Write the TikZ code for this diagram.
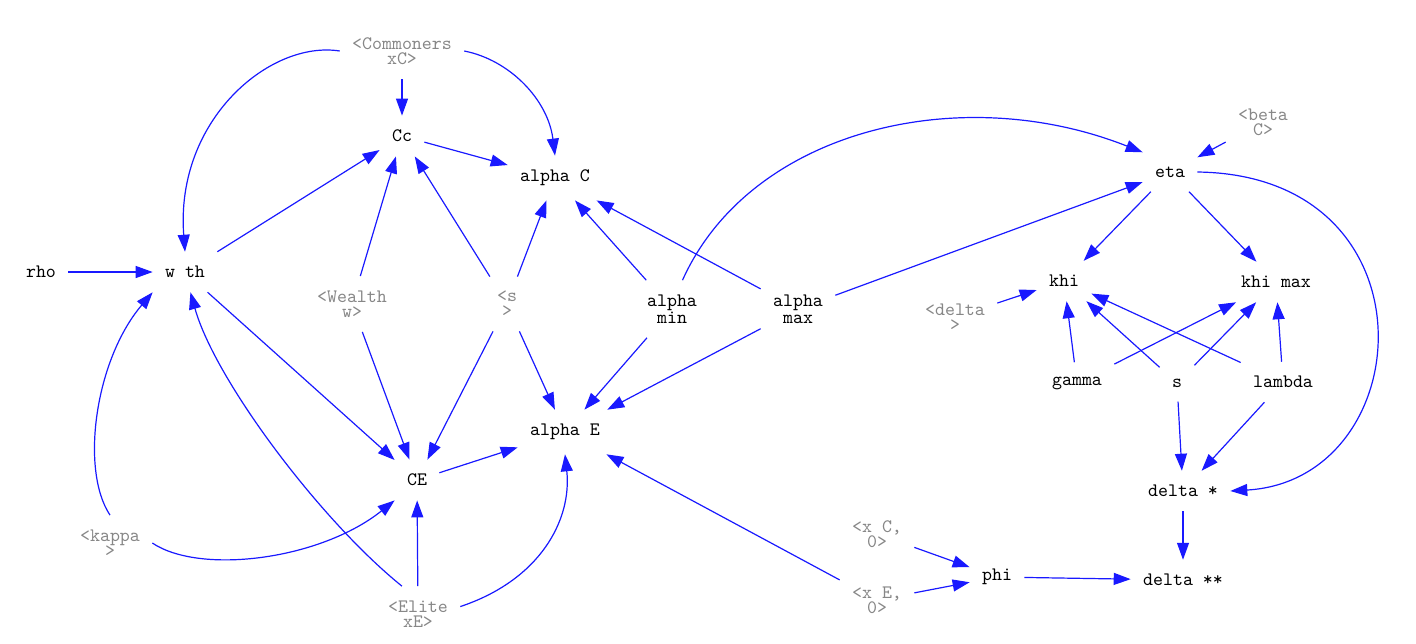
\documentclass[tikz,border=0pt]{standalone}
\usetikzlibrary{arrows.meta}
\definecolor{linkblue}{RGB}{25,25,255}
\definecolor{shadowgray}{RGB}{135,135,135}
\begin{document}
\begin{tikzpicture}[x=0.5pt,y=-0.5pt,
  var/.style={font=\ttfamily\fontsize{9.5}{8.6}\selectfont, align=center,
              inner xsep=6pt, inner ysep=7pt},
  ghost/.style={var, font=\ttfamily\fontsize{9.5}{7.7}\selectfont, text=shadowgray},
  link/.style={draw=linkblue, line width=0.6pt,
               -{Triangle[length=8.5pt,width=6pt]}}]
\useasboundingbox (0,0) rectangle (1416,643);

% variables
\node[ghost] (comm)   at (402,51)  {<Commoners\\xC>};
\node[var]   (cc)     at (402,136) {Cc};
\node[var]   (ac)     at (555,178) {alpha C};
\node[var]   (wth)    at (185,272) {w th};
\node[var]   (rho)    at (41,272)  {rho};
\node[ghost] (wealth) at (352,304) {<Wealth\\w>};
\node[ghost] (sg)     at (507,304) {<s\\>};
\node[var]   (amin)   at (672,309) {alpha\\min};
\node[var]   (amax)   at (798,309) {alpha\\max};
\node[var]   (ae)     at (565,432) {alpha E};
\node[var]   (ce)     at (417,480) {CE};
\node[ghost] (kappa)  at (110,543) {<kappa\\>};
\node[ghost] (elite)  at (418,614) {<Elite\\xE>};
\node[var]   (eta)    at (1170,172) {eta};
\node[ghost] (beta)   at (1263,122) {<beta\\C>};
\node[var]   (khi)    at (1064,281) {khi};
\node[var]   (khimax) at (1276,282) {khi max};
\node[ghost] (delta)  at (955,317) {<delta\\>};
\node[var]   (gamma)  at (1077,383) {gamma};
\node[var]   (s)      at (1177,383) {s};
\node[var]   (lambda) at (1283,382) {lambda};
\node[var]   (dstar)  at (1183,491) {delta *};
\node[var]   (dss)    at (1183,580) {delta **};
\node[var]   (phi)    at (997,577) {phi};
\node[ghost] (xc)     at (877,534) {<x C,\\0>};
\node[ghost] (xe)     at (877,600) {<x E,\\0>};

% commoners / elite block
\draw[link] (comm) -- (cc);
\draw[link] (comm.east) .. controls (510,60) and (548,100) .. (ac.north);
\draw[link] (comm.west) .. controls (270,40) and (175,120) .. (wth.north);
\draw[link] (cc) -- (ac);
\draw[link] (wth) -- (cc);
\draw[link] (wealth) -- (cc);
\draw[link] (sg) -- (cc);
\draw[link] (sg) -- (ac);
\draw[link] (amin) -- (ac);
\draw[link] (amax) -- (ac);
\draw[link] (amin.70) .. controls (750,130) and (960,80) .. (eta.north west);
\draw[link] (amax) -- (eta);
\draw[link] (rho) -- (wth);
\draw[link] (wth) -- (ce);
\draw[link] (wealth) -- (ce);
\draw[link] (sg) -- (ce);
\draw[link] (sg) -- (ae);
\draw[link] (amin) -- (ae);
\draw[link] (amax) -- (ae);
\draw[link] (ce) -- (ae);
\draw[link] (kappa.north) .. controls (80,470) and (95,360) .. (wth.south west);
\draw[link] (kappa.east) .. controls (200,575) and (320,560) .. (ce.south west);
\draw[link] (elite.120) .. controls (320,520) and (215,380) .. (wth.-75);
\draw[link] (elite) -- (ce);
\draw[link] (elite.10) .. controls (540,580) and (572,520) .. (ae.south);
\draw[link] (xe) -- (ae);

% phi and delta block
\draw[link] (xc) -- (phi);
\draw[link] (xe) -- (phi);
\draw[link] (phi) -- (dss);
\draw[link] (dstar) -- (dss);
\draw[link] (beta) -- (eta);
\draw[link] (eta) -- (khi);
\draw[link] (eta) -- (khimax);
\draw[link] (eta.east) .. controls (1440,175) and (1420,480) .. (dstar.east);
\draw[link] (delta) -- (khi);
\draw[link] (gamma) -- (khi);
\draw[link] (gamma) -- (khimax);
\draw[link] (s) -- (khi);
\draw[link] (s) -- (khimax);
\draw[link] (s) -- (dstar);
\draw[link] (lambda) -- (khi);
\draw[link] (lambda) -- (khimax);
\draw[link] (lambda) -- (dstar);
\end{tikzpicture}
\end{document}
